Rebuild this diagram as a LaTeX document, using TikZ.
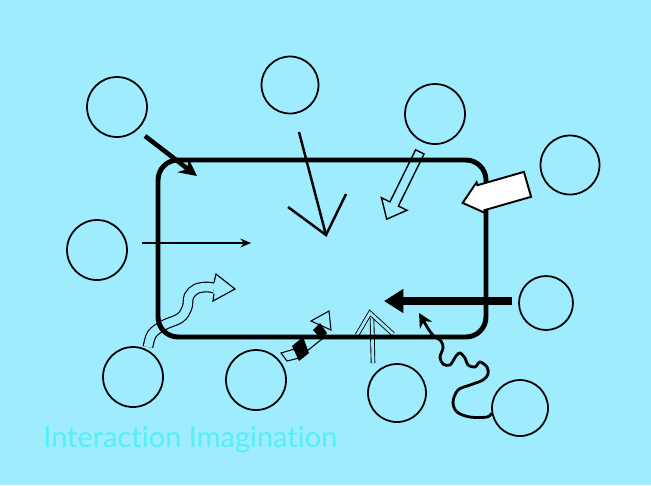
\documentclass[tikz,border=0pt]{standalone}
\usepackage{fontspec}
\newfontfamily\captionfont{Lato}[Ligatures=NoCommon]
\definecolor{skycyan}{RGB}{158, 236, 253}
\definecolor{titlecyan}{RGB}{85, 238, 250}
\usepackage{tikz}
\usetikzlibrary{shapes, arrows.meta, positioning, calc}
\tikzset{
  bubble/.style={circle, draw, line width=1pt, inner sep=0pt, minimum size=#1},
  bubble/.default=1.2cm
}

\begin{document}
\begin{tikzpicture}[x=0.02cm, y=-0.02cm]
  \useasboundingbox (0,0) rectangle (651,485);
  % background
  \fill[skycyan] (0,0) rectangle (651,485);

  % circles round the frame
  \node[bubble] (c1) at (117,107) {};
  \node[bubble=1.14cm] (c2) at (290,85) {};
  \node[bubble] (c3) at (435,114) {};
  \node[bubble=1.18cm] (c4) at (570,165) {};
  \node[bubble] (c5) at (97,250) {};
  \node[bubble=1.08cm] (c6) at (546,303) {};
  \node[bubble] (c7) at (133,377) {};
  \node[bubble] (c8) at (256,380) {};
  \node[bubble=1.16cm] (c9) at (397,393) {};
  \node[bubble=1.12cm] (c10) at (520,408) {};

  % wavy hollow arrow
  \draw[line width=0.65pt, double=skycyan, double distance=4.8pt] plot[smooth, tension=0.6] coordinates {(148,347) (152,334) (164,325) (180,318) (187,308) (189,296) (196,289) (206,287) (214,288)};
  \draw[line width=0.65pt, fill=skycyan, line join=miter] (214,282.5) -- (216,274) -- (235,289) -- (213,301) -- (214,293.5);

  % double line arrow
  \draw[double=skycyan, double distance=1.6pt, line width=0.5pt] (373,363) -- (372,318);
  \draw[double=skycyan, double distance=1.6pt, line width=0.5pt, line join=miter] (357,335) -- (370,313) -- (393,334);

  % open arrow from c3
  \node[single arrow, draw, line width=0.8pt, minimum height=1.5cm, inner xsep=0pt, inner ysep=0.08cm, single arrow head extend=0.19cm, single arrow tip angle=80, rotate=243.8] (hollow) at (404.5,183) {};

  % frame
  \node[draw, line width=2.8pt, rounded corners=0.4cm, minimum width=6.56cm, minimum height=3.54cm] (frame) at (322,248.5) {};

  % black arrows
  \draw[line width=2.6pt, -{Stealth[length=10pt, width=10pt]}] (145,136) -- (197,176);
  \draw[line width=1.1pt, -{Stealth[length=6pt, width=5pt]}] (142,243) -- (251,243);
  \draw[line width=1.4pt] (299,132) -- (326,235);
  \draw[line width=1.4pt, line join=miter] (288,207) -- (326,235) -- (346,194);
  \draw[line width=4.5pt, -{Triangle[length=11pt, width=13pt]}] (512,301) -- (384,301);

  % diamond arrow
  \draw[line width=0.6pt] (281,353) -- (298,348) -- (303,357) -- (287,361) -- cycle;
  \fill (292,346) -- (303,337) -- (309,353) -- (299,361) -- cycle;
  \draw[line width=0.6pt] (307,351) -- (322,339);
  \fill (313,330) -- (320,323) -- (327,333) -- (322,340) -- cycle;
  \draw[line width=0.6pt] (311,321) -- (329,311) -- (331,330) -- cycle;

  % squiggle
  \draw[line width=1.6pt, {Stealth[length=8pt, width=8pt]}-] plot[smooth, tension=0.55] coordinates {(419,313) (432,334) (441,341) (443,348) (440,357) (443,364) (450,365) (456,356) (460,353) (465,358) (468,365) (475,367) (480,362) (487,367) (488,374) (483,380) (470,385) (458,390) (453,402) (457,412) (470,417) (487,417) (c10.190)};

  % white block arrow
  \node[single arrow, draw, fill=white, line width=1.1pt, minimum height=1.35cm, inner xsep=0pt, inner ysep=0.24cm, single arrow head extend=0.06cm, single arrow tip angle=80, rotate=196] (block) at (502.5,191.5) {};

  \node[font=\captionfont\fontsize{16.5}{20}\selectfont, text=titlecyan, anchor=base west, inner sep=0pt] (caption) at (43,447) {Interaction Imagination};
\end{tikzpicture}
\end{document}
